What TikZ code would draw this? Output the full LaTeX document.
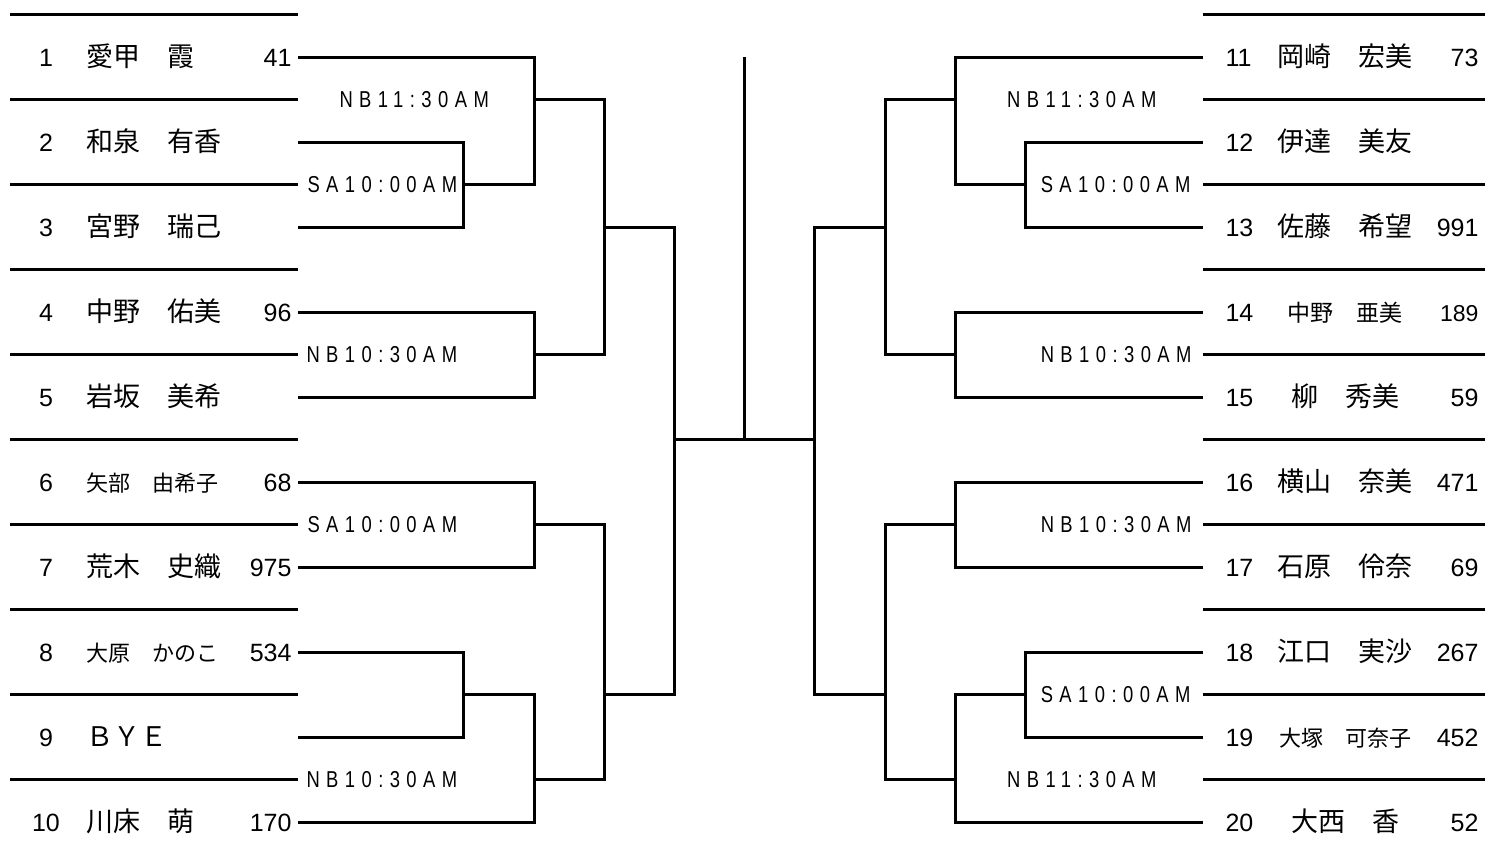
\documentclass[tikz,border=0pt]{standalone}
\usepackage{fontspec}
\setmainfont{Liberation Sans}
\newfontfamily\jpfont{Noto Sans CJK JP}
\newfontfamily\slotfont[FakeStretch=0.8, LetterSpace=28]{Liberation Sans}

\begin{document}
\begin{tikzpicture}[x=1pt, y=-1pt, line width=3pt,
    every node/.style={inner sep=0pt},
    num/.style={font=\fontsize{25}{30}\selectfont},
    numsmall/.style={font=\fontsize{23}{28}\selectfont},
    jpname/.style={font=\jpfont\fontsize{27}{32}\selectfont},
    jpmid/.style={font=\jpfont\fontsize{23}{28}\selectfont},
    jpsmall/.style={font=\jpfont\fontsize{22}{28}\selectfont},
    slot/.style={font=\slotfont\fontsize{23}{28}\selectfont}]
  \useasboundingbox (0,0) rectangle (1485,862);

  % rules between the entries
  \foreach \k in {0,...,9} {
    \draw (10,14+85*\k) -- (298,14+85*\k);
    \draw (1203,14+85*\k) -- (1485,14+85*\k);
  }

  % left entries
  \foreach \i/\nm/\sc/\st in {1/愛甲　霞/41/jpname, 2/和泉　有香//jpname,
      3/宮野　瑞己//jpname, 4/中野　佑美/96/jpname, 5/岩坂　美希//jpname,
      6/矢部　由希子/68/jpsmall, 7/荒木　史織/975/jpname, 8/大原　かのこ/534/jpsmall,
      9/ＢＹＥ//jpname, 10/川床　萌/170/jpname} {
    \pgfmathsetmacro{\y}{57+85*(\i-1)}
    \node[num, anchor=base] (n\i) at (46,\y+9) {\i};
    \node[style=\st, anchor=base west] (p\i) at (85,\y+9.5) {\nm};
    \node[num, anchor=base east] (s\i) at (293,\y+9) {\sc};
    \coordinate (L\i) at (298,\y);
  }

  % right entries
  \foreach \i/\nm/\sc/\st/\ss in {11/岡崎　宏美/73/jpname/num, 12/伊達　美友//jpname/num,
      13/佐藤　希望/991/jpname/num, 14/中野　亜美/189/jpmid/numsmall, 15/柳　秀美/59/jpname/num,
      16/横山　奈美/471/jpname/num, 17/石原　伶奈/69/jpname/num, 18/江口　実沙/267/jpname/num,
      19/大塚　可奈子/452/jpsmall/num, 20/大西　香/52/jpname/num} {
    \pgfmathsetmacro{\y}{57+85*(\i-11)}
    \node[num, anchor=base west] (n\i) at (1224,\y+9) {\i};
    \node[style=\st, anchor=base] (p\i) at (1345,\y+9.5) {\nm};
    \node[style=\ss, anchor=base east] (s\i) at (1480,\y+9) {\sc};
    \coordinate (R\i) at (1203,\y);
  }

  % match times
  \node[slot, anchor=base west] (t1) at (338,107.3) {NB11:30AM};
  \node[slot, anchor=base west] (t2) at (306,192.3) {SA10:00AM};
  \node[slot, anchor=base west] (t3) at (305,362.3) {NB10:30AM};
  \node[slot, anchor=base west] (t4) at (306,532.3) {SA10:00AM};
  \node[slot, anchor=base west] (t5) at (305,787.3) {NB10:30AM};
  \node[slot, anchor=base east] (t6) at (1158,107.3) {NB11:30AM};
  \node[slot, anchor=base east] (t7) at (1192,192.3) {SA10:00AM};
  \node[slot, anchor=base east] (t8) at (1193,362.3) {NB10:30AM};
  \node[slot, anchor=base east] (t9) at (1193,532.3) {NB10:30AM};
  \node[slot, anchor=base east] (t10) at (1192,702.3) {SA10:00AM};
  \node[slot, anchor=base east] (t11) at (1158,787.3) {NB11:30AM};

  % junctions, left half
  \coordinate (a) at (463,184);
  \coordinate (b) at (534,99);
  \coordinate (c) at (534,354);
  \coordinate (d) at (604,227);
  \coordinate (e) at (534,524);
  \coordinate (f) at (463,694);
  \coordinate (g) at (534,779);
  \coordinate (h) at (604,694);
  \coordinate (k) at (674,439);
  % junctions, right half
  \coordinate (a') at (1025,184);
  \coordinate (b') at (955,99);
  \coordinate (c') at (955,354);
  \coordinate (d') at (885,227);
  \coordinate (e') at (955,524);
  \coordinate (f') at (1025,694);
  \coordinate (g') at (955,779);
  \coordinate (h') at (885,694);
  \coordinate (k') at (814,439);
  \coordinate (top) at (744,57);

  \draw (L2) -| (a);  \draw (L3) -| (a);
  \draw (L1) -| (b);  \draw (a) -| (b);
  \draw (L4) -| (c);  \draw (L5) -| (c);
  \draw (b) -| (d);   \draw (c) -| (d);
  \draw (L6) -| (e);  \draw (L7) -| (e);
  \draw (L8) -| (f);  \draw (L9) -| (f);
  \draw (f) -| (g);   \draw (L10) -| (g);
  \draw (e) -| (h);   \draw (g) -| (h);
  \draw (d) -| (k);   \draw (h) -| (k);

  \draw (R12) -| (a'); \draw (R13) -| (a');
  \draw (R11) -| (b'); \draw (a') -| (b');
  \draw (R14) -| (c'); \draw (R15) -| (c');
  \draw (b') -| (d');  \draw (c') -| (d');
  \draw (R16) -| (e'); \draw (R17) -| (e');
  \draw (R18) -| (f'); \draw (R19) -| (f');
  \draw (f') -| (g');  \draw (R20) -| (g');
  \draw (e') -| (h');  \draw (g') -| (h');
  \draw (d') -| (k');  \draw (h') -| (k');

  \draw (k) -- (k');
  \draw (top) -- (top |- k);
\end{tikzpicture}
\end{document}
